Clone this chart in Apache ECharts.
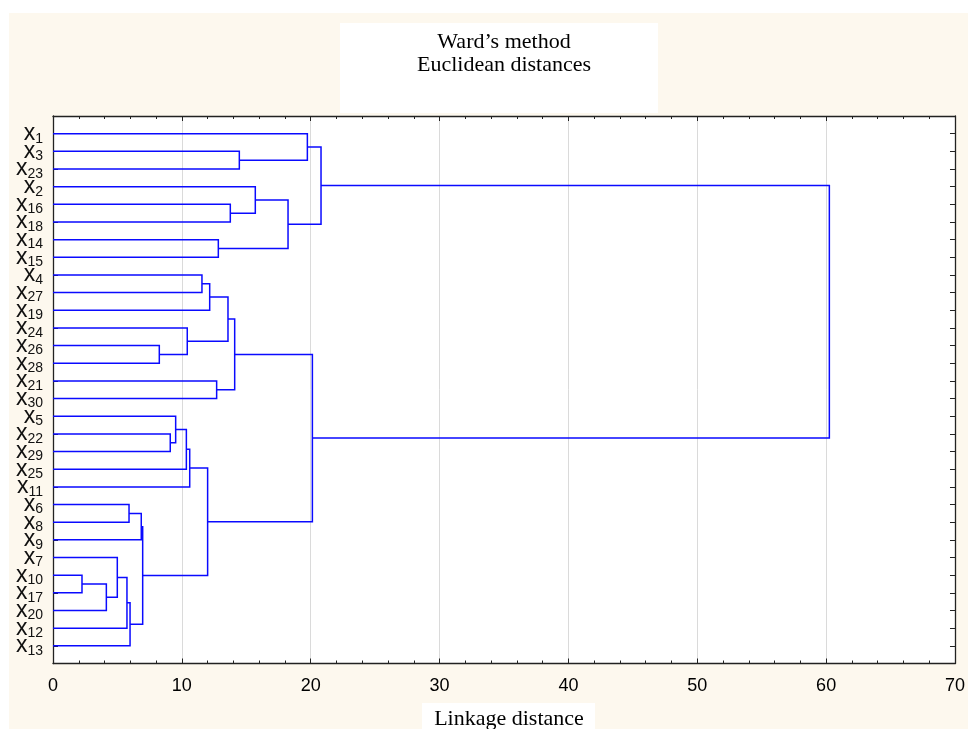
<!DOCTYPE html>
<html>
<head>
<meta charset="utf-8">
<script src="https://cdn.jsdelivr.net/npm/echarts@6/dist/echarts.min.js"></script>
<style>
  html, body { margin: 0; padding: 0; background: #ffffff; }
  #chart { width: 968px; height: 729px; }
</style>
</head>
<body>
<div id="chart"></div>
<script>
// Leaf order from top to bottom (subscript of x)
const leafIds = ['1', '3', '23', '2', '16', '18', '14', '15', '4', '27', '19', '24', '26', '28',
  '21', '30', '5', '22', '29', '25', '11', '6', '8', '9', '7', '10', '17', '20', '12', '13'];

// Agglomeration steps: [child A, child B, linkage distance]; cK is the cluster built at step K
const merges = [
  ['x10', 'x17', 2.25],   // c0
  ['c0', 'x20', 4.14],    // c1
  ['x7', 'c1', 4.99],     // c2
  ['c2', 'x12', 5.74],    // c3
  ['x6', 'x8', 5.90],     // c4
  ['c3', 'x13', 5.98],    // c5
  ['c4', 'x9', 6.85],     // c6
  ['c6', 'c5', 6.96],     // c7
  ['x26', 'x28', 8.25],   // c8
  ['x22', 'x29', 9.10],   // c9
  ['x5', 'c9', 9.52],     // c10
  ['c10', 'x25', 10.35],  // c11
  ['x24', 'c8', 10.42],   // c12
  ['c11', 'x11', 10.61],  // c13
  ['x4', 'x27', 11.56],   // c14
  ['c13', 'c7', 12.00],   // c15
  ['c14', 'x19', 12.16],  // c16
  ['x21', 'x30', 12.70],  // c17
  ['x14', 'x15', 12.83],  // c18
  ['c16', 'c12', 13.58],  // c19
  ['x16', 'x18', 13.76],  // c20
  ['c19', 'c17', 14.10],  // c21
  ['x3', 'x23', 14.46],   // c22
  ['x2', 'c20', 15.70],   // c23
  ['c23', 'c18', 18.24],  // c24
  ['x1', 'c22', 19.74],   // c25
  ['c21', 'c15', 20.13],  // c26
  ['c25', 'c24', 20.80],  // c27
  ['c27', 'c26', 60.25]   // c28
];

const xTicks = [0, 10, 20, 30, 40, 50, 60, 70];

// Build the bracket polylines of the dendrogram in data space
const nodes = {};
leafIds.forEach((id, i) => { nodes['x' + id] = { y: i + 1, h: 0 }; });
const brackets = [];
merges.forEach((m, k) => {
  const a = nodes[m[0]], b = nodes[m[1]], h = m[2];
  brackets.push({ coords: [[a.h, a.y], [h, a.y], [h, b.y], [b.h, b.y]] });
  nodes['c' + k] = { y: (a.y + b.y) / 2, h: h };
});

const axisColor = '#222222';
const cream = '#fdf8ee';

const chart = echarts.init(document.getElementById('chart'), null, { renderer: 'canvas' });

const yAxisBase = {
  type: 'value',
  inverse: true,
  min: 0,
  max: leafIds.length + 1,
  interval: 1,
  axisLine: { show: true, onZero: false, lineStyle: { color: axisColor, width: 1.3 } },
  axisTick: { show: true, inside: true, length: 5, lineStyle: { color: axisColor, width: 1 } },
  splitLine: { show: false }
};

const xAxisBase = {
  type: 'value',
  min: xTicks[0],
  max: xTicks[xTicks.length - 1],
  interval: 10,
  axisLine: { show: true, onZero: false, lineStyle: { color: axisColor, width: 1.3 } },
  axisTick: { show: true, inside: true, length: 5, lineStyle: { color: axisColor, width: 1 } },
  minorTick: { show: true, splitNumber: 5, length: 3, lineStyle: { color: axisColor, width: 1 } }
};

chart.setOption({
  animation: false,
  backgroundColor: '#ffffff',
  title: {
    text: 'Ward’s method\nEuclidean distances',
    left: 499,
    top: 26,
    textAlign: 'center',
    textStyle: {
      fontFamily: 'Liberation Serif',
      fontSize: 22,
      fontWeight: 'normal',
      lineHeight: 23,
      color: '#000000'
    }
  },
  graphic: [
    { type: 'rect', z: -20, silent: true, shape: { x: 9, y: 13, width: 959, height: 716 }, style: { fill: cream } },
    { type: 'rect', z: -19, silent: true, shape: { x: 340, y: 23, width: 318, height: 90 }, style: { fill: '#ffffff' } },
    { type: 'rect', z: -19, silent: true, shape: { x: 422, y: 703, width: 173, height: 26 }, style: { fill: '#ffffff' } },
    {
      type: 'text', z: 10, silent: true, x: 509, y: 719,
      style: {
        text: 'Linkage distance', fontFamily: 'Liberation Serif', fontSize: 22,
        fill: '#000000', align: 'center', verticalAlign: 'middle'
      }
    }
  ],
  grid: {
    left: 53, top: 116, right: 12.5, bottom: 65.5,
    show: true, backgroundColor: '#ffffff', borderWidth: 0
  },
  xAxis: [
    Object.assign({}, xAxisBase, {
      position: 'bottom',
      axisLabel: {
        show: true, margin: 14, color: '#000000',
        fontFamily: 'Liberation Sans', fontSize: 18,
        formatter: v => (xTicks.indexOf(v) >= 0 ? String(v) : '')
      },
      splitLine: { show: true, lineStyle: { color: '#dadada', width: 1 } }
    }),
    Object.assign({}, xAxisBase, {
      position: 'top',
      axisLabel: { show: false },
      splitLine: { show: false }
    })
  ],
  yAxis: [
    Object.assign({}, yAxisBase, {
      position: 'left',
      axisLabel: {
        show: true,
        margin: 10,
        formatter: v => (v >= 1 && v <= leafIds.length ? '{x|x}{s|' + leafIds[v - 1] + '}' : ''),
        rich: {
          x: { fontFamily: 'Liberation Sans', fontSize: 23, lineHeight: 22, color: '#111111', verticalAlign: 'middle' },
          s: { fontFamily: 'Liberation Sans', fontSize: 14, lineHeight: 14, color: '#111111', verticalAlign: 'middle', padding: [10, 0, 0, 0] }
        }
      }
    }),
    Object.assign({}, yAxisBase, {
      position: 'right',
      axisLabel: { show: false }
    })
  ],
  series: [
    {
      type: 'lines',
      coordinateSystem: 'cartesian2d',
      xAxisIndex: 0,
      yAxisIndex: 0,
      polyline: true,
      silent: true,
      lineStyle: { color: '#0a0aff', width: 1.5, opacity: 1 },
      data: brackets
    }
  ]
});
</script>
</body>
</html>
